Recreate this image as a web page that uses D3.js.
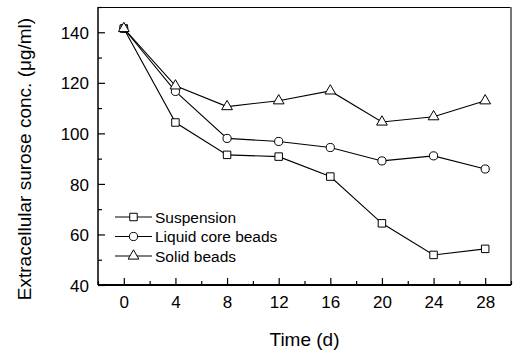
<!DOCTYPE html>
<html>
<head>
<meta charset="utf-8">
<script src="https://cdn.jsdelivr.net/npm/d3@7"></script>
<style>
  body { margin: 0; background: #fff; }
  text { font-family: "Liberation Sans", Arial, sans-serif; fill: #000; }
</style>
</head>
<body>
<div id="chart-area"></div>
<script>
// data
var days = [0, 4, 8, 12, 16, 20, 24, 28];
var suspension = [141.5, 104.3, 91.5, 90.8, 82.9, 64.4, 51.9, 54.3];
var liquidCore = [141.5, 116.6, 98.0, 96.8, 94.4, 89.1, 91.1, 85.9];
var solidBeads = [141.5, 118.8, 110.6, 112.9, 116.8, 104.5, 106.6, 112.9];
var seriesNames = ["Suspension", "Liquid core beads", "Solid beads"];
var xTicks = [0, 4, 8, 12, 16, 20, 24, 28];
var yTicks = [40, 60, 80, 100, 120, 140];

var W = 517, H = 352;
var plotL = 98, plotR = 511, plotT = 7, plotB = 285;

var svg = d3.select("#chart-area").append("svg")
  .attr("width", W)
  .attr("height", H);

var x = d3.scaleLinear().domain([-2, 30]).range([plotL, plotR]);
var y = d3.scaleLinear().domain([40, 150]).range([plotB, plotT]);

// frame: top black, right grey
svg.append("line")
  .attr("x1", plotL).attr("x2", plotR).attr("y1", plotT + 0.5).attr("y2", plotT + 0.5)
  .attr("stroke", "#000").attr("stroke-width", 1.2);
svg.append("line")
  .attr("x1", plotR).attr("x2", plotR).attr("y1", plotT).attr("y2", plotB)
  .attr("stroke", "#777").attr("stroke-width", 2);

// x axis - ticks point inward
var xAxis = svg.append("g").attr("transform", "translate(0," + plotB + ")");
xAxis.call(d3.axisBottom(x).tickValues(d3.range(-2, 31, 2)).tickSize(-4).tickFormat(""))
  .call(function(g) { g.select(".domain").remove(); });
xAxis.selectAll(".tick").filter(function(d) { return xTicks.indexOf(d) >= 0; })
  .select("line").attr("y2", -7);
xAxis.selectAll(".tick line").attr("stroke-width", 1.2);
xAxis.selectAll(".tick").filter(function(d) { return xTicks.indexOf(d) >= 0; })
  .append("text")
    .attr("y", 23)
    .attr("text-anchor", "middle")
    .style("font-size", "17px")
    .text(function(d) { return d; });

// y axis
var yAxis = svg.append("g").attr("transform", "translate(" + plotL + ",0)");
yAxis.call(d3.axisLeft(y).tickValues(d3.range(40, 151, 10)).tickSize(-4).tickFormat(""))
  .call(function(g) { g.select(".domain").remove(); });
yAxis.selectAll(".tick").filter(function(d) { return yTicks.indexOf(d) >= 0; })
  .select("line").attr("x2", 7);
yAxis.selectAll(".tick line").attr("stroke-width", 1.2);
yAxis.selectAll(".tick").filter(function(d) { return yTicks.indexOf(d) >= 0; })
  .append("text")
    .attr("x", -9)
    .attr("dy", "0.36em")
    .attr("text-anchor", "end")
    .style("font-size", "17px")
    .text(function(d) { return d; });

svg.append("line")
  .attr("x1", plotL).attr("x2", plotL).attr("y1", plotT).attr("y2", plotB)
  .attr("stroke", "#000").attr("stroke-width", 1.5);
svg.append("line")
  .attr("x1", plotL).attr("x2", plotR).attr("y1", plotB).attr("y2", plotB)
  .attr("stroke", "#000").attr("stroke-width", 2);

// axis titles
svg.append("text")
  .attr("x", (plotL + plotR) / 2)
  .attr("y", 346)
  .attr("text-anchor", "middle")
  .style("font-size", "19px")
  .text("Time (d)");

svg.append("text")
  .attr("transform", "translate(31,159) rotate(-90)")
  .attr("text-anchor", "middle")
  .style("font-size", "19px")
  .text("Extracellular surose conc. (\u03bcg/ml)");

// markers
var sym = {
  square: d3.symbol().type(d3.symbolSquare).size(56),
  circle: d3.symbol().type(d3.symbolCircle).size(52),
  triangle: d3.symbol().type(d3.symbolTriangle).size(50)
};
var series = [
  { name: seriesNames[0], values: suspension, shape: sym.square },
  { name: seriesNames[1], values: liquidCore, shape: sym.circle },
  { name: seriesNames[2], values: solidBeads, shape: sym.triangle }
];

var line = d3.line()
  .x(function(d) { return x(d[0]); })
  .y(function(d) { return y(d[1]); });

series.forEach(function(s) {
  var pts = days.map(function(d, i) { return [d, s.values[i]]; });
  svg.append("path")
    .attr("d", line(pts))
    .attr("fill", "none")
    .attr("stroke", "#000")
    .attr("stroke-width", 1.1);
  svg.selectAll(null).data(pts).enter()
    .append("path")
      .attr("transform", function(d) { return "translate(" + x(d[0]) + "," + y(d[1]) + ")"; })
      .attr("d", s.shape)
      .attr("fill", "#fff")
      .attr("stroke", "#000")
      .attr("stroke-width", 1);
});

// legend
var legend = svg.append("g");
series.forEach(function(s, i) {
  var ly = 217 + i * 19.5;
  legend.append("line")
    .attr("x1", 115).attr("x2", 152).attr("y1", ly).attr("y2", ly)
    .attr("stroke", "#000").attr("stroke-width", 1.1);
  legend.append("path")
    .attr("transform", "translate(133.5," + ly + ")")
    .attr("d", s.shape)
    .attr("fill", "#fff")
    .attr("stroke", "#000");
  legend.append("text")
    .attr("x", 155)
    .attr("y", ly)
    .attr("dy", "0.36em")
    .style("font-size", "15.5px")
    .text(s.name);
});
</script>
</body>
</html>
